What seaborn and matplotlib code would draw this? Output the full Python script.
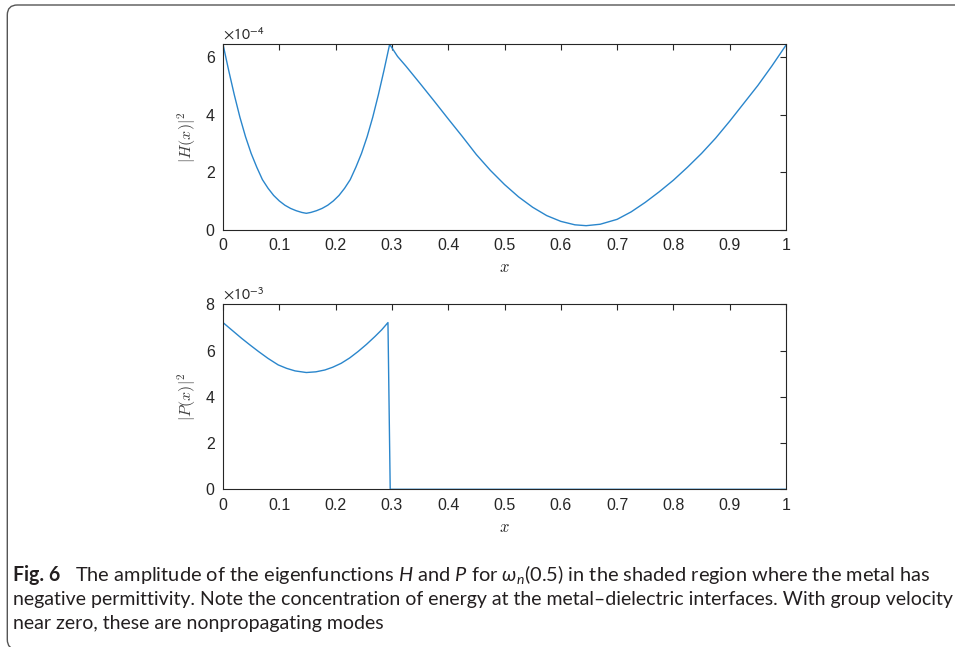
import numpy as np
import pandas as pd
import matplotlib
matplotlib.use("Agg")
import matplotlib.pyplot as plt
import seaborn as sns
from matplotlib.patches import FancyBboxPatch
from matplotlib.ticker import FuncFormatter

# =========================
# DATA
# =========================
H_SCALE = 1e-4
P_SCALE = 1e-3

# |H|^2, metal part (0 - 0.3) and dielectric part (0.3 - 1), units of 1e-4
h_x = [0.000, 0.010, 0.020, 0.030, 0.040, 0.050, 0.060, 0.070, 0.080, 0.090,
       0.100, 0.110, 0.120, 0.130, 0.140, 0.148, 0.156, 0.166, 0.176, 0.186,
       0.196, 0.206, 0.216, 0.226, 0.236, 0.246, 0.256, 0.266, 0.276, 0.286,
       0.296, 0.310, 0.325, 0.350, 0.375, 0.400, 0.425, 0.450, 0.475, 0.500,
       0.525, 0.550, 0.575, 0.600, 0.625, 0.645, 0.670, 0.700, 0.725, 0.750,
       0.775, 0.800, 0.825, 0.850, 0.875, 0.900, 0.925, 0.950, 0.975, 1.000]
h_val = [6.45, 5.55, 4.70, 3.92, 3.24, 2.66, 2.18, 1.75, 1.45, 1.20,
         1.01, 0.86, 0.75, 0.67, 0.61, 0.58, 0.61, 0.67, 0.75, 0.86,
         1.01, 1.20, 1.45, 1.75, 2.18, 2.66, 3.24, 3.92, 4.70, 5.55,
         6.45, 6.03, 5.69, 5.09, 4.48, 3.86, 3.25, 2.62, 2.07, 1.58,
         1.15, 0.79, 0.50, 0.30, 0.18, 0.15, 0.20, 0.37, 0.63, 0.96,
         1.33, 1.73, 2.18, 2.66, 3.19, 3.78, 4.40, 5.02, 5.70, 6.42]

# |P|^2, units of 1e-3 (zero outside the metal)
p_x = [0.000, 0.016, 0.033, 0.048, 0.063, 0.080, 0.098, 0.113, 0.128, 0.148,
       0.165, 0.181, 0.195, 0.210, 0.225, 0.240, 0.255, 0.270, 0.282, 0.293,
       0.297, 1.000]
p_val = [7.21, 6.88, 6.53, 6.24, 5.96, 5.66, 5.38, 5.23, 5.12, 5.05,
         5.08, 5.16, 5.28, 5.45, 5.68, 5.96, 6.27, 6.61, 6.90, 7.21,
         0.00, 0.00]

x_ticks = [0, 0.1, 0.2, 0.3, 0.4, 0.5, 0.6, 0.7, 0.8, 0.9, 1]
h_yticks = [0, 2, 4, 6]
p_yticks = [0, 2, 4, 6, 8]

caption_bold = "Fig. 6"
caption_lines = [
    r"The amplitude of the eigenfunctions $H$ and $P$ for $\omega_n$(0.5) in the shaded region where the metal has",
    "negative permittivity. Note the concentration of energy at the metal\u2013dielectric interfaces. With group velocity",
    "near zero, these are nonpropagating modes",
]

h_df = pd.DataFrame({"x": h_x, "y": np.array(h_val) * H_SCALE})
p_df = pd.DataFrame({"x": p_x, "y": np.array(p_val) * P_SCALE})

# =========================
# STYLE
# =========================
sns.set_theme(style="white")
plt.rcParams["font.family"] = ["Liberation Sans", "DejaVu Sans"]
plt.rcParams["mathtext.fontset"] = "custom"
plt.rcParams["mathtext.rm"] = "Lato"
plt.rcParams["mathtext.it"] = "Lato:italic"
plt.rcParams["mathtext.bf"] = "Lato:bold"

AX_COL = "#262626"
LINE_COL = "#2a86cc"

fig = plt.figure(figsize=(9.55, 6.47), dpi=100)
ax_h = fig.add_axes([223 / 955, 1 - 230 / 647, 563 / 955, 185.7 / 647])
ax_p = fig.add_axes([223 / 955, 1 - 489.3 / 647, 563 / 955, 185 / 647])


def style_axis(ax, yticks, scale, exp_label, ylabel):
    ax.set_xlim(0, 1)
    ax.set_xticks(x_ticks)
    ax.set_xticklabels([f"{t:g}" for t in x_ticks])
    ax.set_yticks([t * scale for t in yticks])
    ax.yaxis.set_major_formatter(FuncFormatter(lambda v, pos: f"{v / scale:g}"))
    ax.tick_params(direction="in", length=4, width=0.8, colors=AX_COL,
                   labelsize=11.5, top=True, right=True, pad=6)
    for s in ax.spines.values():
        s.set_visible(True)
        s.set_color(AX_COL)
        s.set_linewidth(0.8)
    ax.set_xlabel("$x$", math_fontfamily="cm", fontsize=12, color=AX_COL, labelpad=5)
    ax.set_ylabel(ylabel, math_fontfamily="cm", fontsize=11.5, color="#404040")
    ax.yaxis.set_label_coords(-0.045, 0.5)
    ax.text(0.0, 1.008, exp_label, transform=ax.transAxes, ha="left", va="bottom",
            fontsize=11.5, color=AX_COL, math_fontfamily="stixsans")


sns.lineplot(data=h_df, x="x", y="y", ax=ax_h, color=LINE_COL, linewidth=1.0,
             sort=False, estimator=None)
ax_h.set_ylim(0, 6.45 * H_SCALE)
style_axis(ax_h, h_yticks, H_SCALE, r"$\times10^{-4}$", r"$|H(x)|^2$")

sns.lineplot(data=p_df, x="x", y="y", ax=ax_p, color=LINE_COL, linewidth=1.0,
             sort=False, estimator=None)
ax_p.set_ylim(0, 8 * P_SCALE)
style_axis(ax_p, p_yticks, P_SCALE, r"$\times10^{-3}$", r"$|P(x)|^2$")

# =========================
# CAPTION + FRAME
# =========================
frame = FancyBboxPatch((0.073, -0.025), 10.0, 6.445,
                       boxstyle="round,pad=0,rounding_size=0.1",
                       transform=fig.dpi_scale_trans, fill=False,
                       edgecolor="#555555", linewidth=1.0, clip_on=False)
fig.patches.append(frame)

cap_font = ["Lato", "DejaVu Sans"]
cap_col = "#231f20"
bold_txt = fig.text(13 / 955, 1 - 575 / 647, caption_bold, family=cap_font,
                    fontsize=13, fontweight="bold", color=cap_col,
                    va="center", ha="left")
cap_txts = []
for i, line in enumerate(caption_lines):
    x0 = 75 / 955 if i == 0 else 13 / 955
    t = fig.text(x0, 1 - (575 + 24 * i) / 647, line, family=cap_font, fontsize=13,
                 color=cap_col, va="center", ha="left", math_fontfamily="custom")
    cap_txts.append(t)

# fit caption size so the lines span the same widths as in the figure
renderer = fig.canvas.get_renderer()
w1 = cap_txts[0].get_window_extent(renderer).width
w2 = cap_txts[1].get_window_extent(renderer).width
size2 = 13 * 940 / w2
size1 = 13 * 851 / w1
cap_txts[0].set_fontsize(size1)
cap_txts[1].set_fontsize(size2)
cap_txts[2].set_fontsize(size2)
bold_txt.set_fontsize(size2)

fig.savefig("out.png", dpi=100)
